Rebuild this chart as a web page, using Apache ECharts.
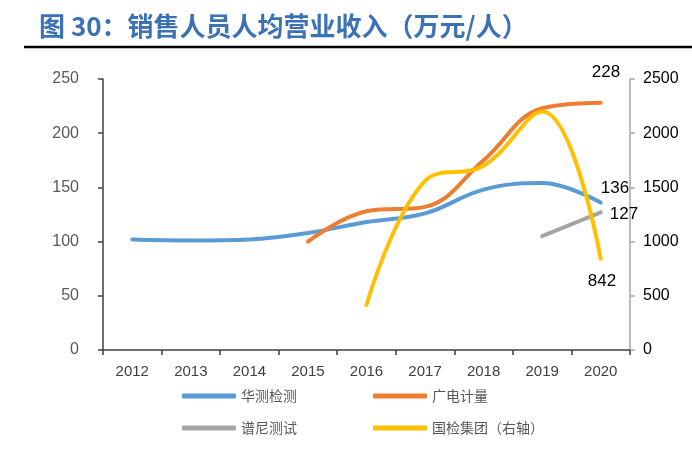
<!DOCTYPE html>
<html><head><meta charset="utf-8">
<script src="https://cdn.jsdelivr.net/npm/echarts@6/dist/echarts.min.js"></script>
<style>html,body{margin:0;padding:0;background:#fff}#c{width:692px;height:460px}</style>
</head><body><div id="c"></div>
<script>
var years = ['2012','2013','2014','2015','2016','2017','2018','2019','2020'];
var huace = [102, 101, 102, 108, 118, 126, 148, 154, 136];
var guangdian = [null, null, null, 100, 128, 132, 175, 223, 228];
var puni = [null, null, null, null, null, null, null, 105, 127];
var guojian = [null, null, null, null, 415, 1560, 1700, 2200, 842];
var leftTicks = {min: 0, max: 250, interval: 50};
var rightTicks = {min: 0, max: 2500, interval: 500};

var chart = echarts.init(document.getElementById('c'));
var font = 'Liberation Sans, Arial, sans-serif';
var cjk = 'Noto Sans CJK SC, sans-serif';
var lw = 4;
function endLabel(offset) {
  return {show: true, formatter: '{c}', offset: offset, color: '#000', fontSize: 17, fontFamily: font, distance: 5};
}
chart.setOption({
  animation: false,
  title: {
    text: '图 30：销售人员人均营业收入（万元/人）',
    left: 34, top: 8,
    textStyle: {color: '#3a72b5', fontSize: 26, fontWeight: 'bold', fontFamily: cjk}
  },
  graphic: [{type: 'line', shape: {x1: 24, y1: 47, x2: 692, y2: 47}, style: {stroke: '#000', lineWidth: 2.5}}],
  grid: {left: 103, right: 62, top: 79, bottom: 110},
  legend: [
    {orient: 'vertical', left: 182, top: 389, padding: 0, itemWidth: 54, itemHeight: 5, itemGap: 18, icon: 'roundRect',
     data: ['华测检测', '谱尼测试'], textStyle: {color: '#595959', fontSize: 14, fontFamily: cjk}},
    {orient: 'vertical', left: 373, top: 389, padding: 0, itemWidth: 54, itemHeight: 5, itemGap: 18, icon: 'roundRect',
     data: ['广电计量', '国检集团（右轴）'], textStyle: {color: '#595959', fontSize: 14, fontFamily: cjk}}
  ],
  xAxis: {
    type: 'category', data: years, boundaryGap: true,
    axisLine: {lineStyle: {color: '#404040', width: 1.5}},
    axisTick: {show: true, length: 5, lineStyle: {color: '#404040', width: 1.5}},
    axisLabel: {color: '#404040', fontSize: 15, fontFamily: font, margin: 14}
  },
  yAxis: [
    {type: 'value', min: leftTicks.min, max: leftTicks.max, interval: leftTicks.interval,
     axisLine: {show: true, lineStyle: {color: '#404040', width: 1.5}},
     axisTick: {show: true, length: 5, lineStyle: {color: '#404040', width: 1.5}},
     splitLine: {show: false},
     axisLabel: {color: '#595959', fontSize: 16, fontFamily: font, margin: 24}},
    {type: 'value', min: rightTicks.min, max: rightTicks.max, interval: rightTicks.interval, position: 'right',
     axisLine: {show: true, lineStyle: {color: '#a6a6a6', width: 1.5}},
     axisTick: {show: true, length: 5, lineStyle: {color: '#a6a6a6', width: 1.5}},
     splitLine: {show: false},
     axisLabel: {color: '#000', fontSize: 16, fontFamily: font, margin: 13, formatter: function (v) { return String(v); }}}
  ],
  series: [
    {name: '华测检测', type: 'line', smooth: 0.4, showSymbol: false, symbol: 'none', yAxisIndex: 0,
     data: huace, endLabel: endLabel([-5, -14]), lineStyle: {color: '#5b9bd5', width: lw, cap: 'round'}, itemStyle: {color: '#5b9bd5'}},
    {name: '广电计量', type: 'line', smooth: 0.4, showSymbol: false, symbol: 'none', yAxisIndex: 0,
     data: guangdian, endLabel: endLabel([-14, -31]), lineStyle: {color: '#ed7d31', width: lw, cap: 'round'}, itemStyle: {color: '#ed7d31'}},
    {name: '谱尼测试', type: 'line', smooth: 0.4, showSymbol: false, symbol: 'none', yAxisIndex: 0,
     data: puni, endLabel: endLabel([4, 2]), lineStyle: {color: '#a5a5a5', width: lw, cap: 'round'}, itemStyle: {color: '#a5a5a5'}},
    {name: '国检集团（右轴）', type: 'line', smooth: 0.4, showSymbol: false, symbol: 'none', yAxisIndex: 1,
     data: guojian, endLabel: endLabel([-18, 23]), lineStyle: {color: '#ffc000', width: lw, cap: 'round'}, itemStyle: {color: '#ffc000'}}
  ]
});
</script></body></html>
